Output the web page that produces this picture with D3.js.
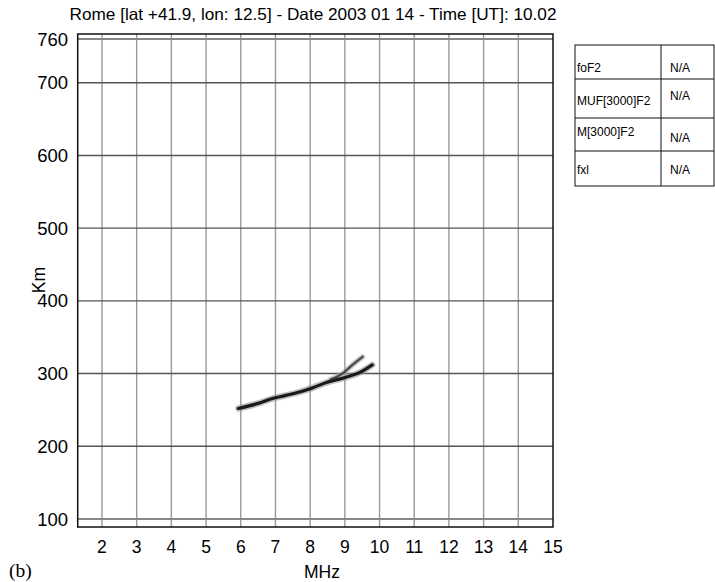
<!DOCTYPE html>
<html><head><meta charset="utf-8">
<script src="https://cdn.jsdelivr.net/npm/d3@7"></script>
<style>body{margin:0;background:#fff}svg{display:block}</style>
</head><body>
<svg id="c" width="715" height="582"></svg>
<script>
const titleText = "Rome [lat +41.9, lon: 12.5] - Date 2003 01 14 - Time [UT]: 10.02";
const xTicks = [2,3,4,5,6,7,8,9,10,11,12,13,14,15];
const yTicks = [100,200,300,400,500,600,700,760];
const traceMainMHz = [5.93,6.5,6.94,7.3,7.72,8.1,8.49,8.96,9.45,9.79];
const traceMainKm  = [252,259,266,270,275,281,288,294,302,312];
const traceUpperMHz = [8.6,8.96,9.22,9.51];
const traceUpperKm  = [292,301,312,323];
const tableLabels = ["foF2","MUF[3000]F2","M[3000]F2","fxl"];
const tableValues = ["N/A","N/A","N/A","N/A"];

const svg = d3.select("#c");
const x = d3.scaleLinear().domain([1.3,15]).range([77.7,553]);
const y = d3.scaleLinear().domain([89,767]).range([527,34]);
const font = "Liberation Sans, Arial, sans-serif";

// grid
svg.append("g").selectAll("line").data(xTicks.filter(d=>d<15)).join("line")
  .attr("x1",d=>x(d)).attr("x2",d=>x(d)).attr("y1",y(767)).attr("y2",y(89))
  .attr("stroke","#999").attr("stroke-width",1.4);
svg.append("g").selectAll("line").data(yTicks).join("line")
  .attr("x1",x(1.3)).attr("x2",x(15)).attr("y1",d=>y(d)).attr("y2",d=>y(d))
  .attr("stroke",d=>(d===760||d===100)?"#888":"#555").attr("stroke-width",d=>(d===760||d===100)?2:1.4);

// frame
svg.append("rect").attr("x",x(1.3)).attr("y",y(767)).attr("width",x(15)-x(1.3)).attr("height",y(89)-y(767))
  .attr("fill","none").attr("stroke","#111").attr("stroke-width",1.5);

// tick labels
svg.append("g").selectAll("text").data(xTicks).join("text")
  .attr("x",d=>x(d)).attr("y",553).attr("text-anchor","middle")
  .attr("font-family",font).attr("font-size",17.5).text(d=>d);
svg.append("g").selectAll("text").data(yTicks).join("text")
  .attr("x",68).attr("y",d=>y(d)+6.5).attr("text-anchor","end")
  .attr("font-family",font).attr("font-size",18.5).text(d=>d);

// trace
const line = d3.line().x(d=>x(d[0])).y(d=>y(d[1])).curve(d3.curveMonotoneX);
const mainPts = traceMainMHz.map((v,i)=>[v,traceMainKm[i]]);
const upPts = traceUpperMHz.map((v,i)=>[v,traceUpperKm[i]]);
[[mainPts,6.5,"#999",0.6],[upPts,5.5,"#aaa",0.6],[mainPts,3.2,"#111",0.95],[upPts,2.4,"#333",0.85]].forEach(([p,w,c,o])=>{
  svg.append("path").attr("d",line(p)).attr("fill","none").attr("stroke",c)
    .attr("stroke-width",w).attr("stroke-opacity",o).attr("stroke-linecap","round");
});

// titles
svg.append("text").attr("x",313).attr("y",20).attr("text-anchor","middle")
  .attr("font-family",font).attr("font-size",16.5)
  .attr("textLength",487).attr("lengthAdjust","spacingAndGlyphs").text(titleText);
svg.append("text").attr("transform","translate(45,280) rotate(-90)").attr("text-anchor","middle")
  .attr("font-family",font).attr("font-size",17.5).text("Km");
svg.append("text").attr("x",322).attr("y",578).attr("text-anchor","middle")
  .attr("font-family",font).attr("font-size",17.5).text("MHz");
svg.append("text").attr("x",9).attr("y",577)
  .attr("font-family","Liberation Serif, Times New Roman, serif").attr("font-size",19.5).text("(b)");

// table
const rowEdges = [45, 79, 118, 151, 186];
const tx0 = 575, tx1 = 661, tx2 = 714;
const tg = svg.append("g");
tg.append("rect").attr("x",tx0).attr("y",rowEdges[0]).attr("width",tx2-tx0).attr("height",rowEdges[4]-rowEdges[0])
  .attr("fill","none").attr("stroke","#111").attr("stroke-width",1);
tg.selectAll("line.r").data(rowEdges.slice(1,4)).join("line")
  .attr("x1",tx0).attr("x2",tx2).attr("y1",d=>d).attr("y2",d=>d).attr("stroke","#111");
tg.append("line").attr("x1",tx1).attr("x2",tx1).attr("y1",rowEdges[0]).attr("y2",rowEdges[4]).attr("stroke","#111");
const labelOff = [27, 26, 18, 23];
const valOff = [27, 21, 24, 23];
tg.selectAll("text.l").data(tableLabels).join("text")
  .attr("x",tx0+2).attr("y",(d,i)=>rowEdges[i]+labelOff[i])
  .attr("font-family",font).attr("font-size",12).text(d=>d);
tg.selectAll("text.v").data(tableValues).join("text")
  .attr("x",tx1+9).attr("y",(d,i)=>rowEdges[i]+valOff[i])
  .attr("font-family",font).attr("font-size",12).text(d=>d);
</script>
</body></html>
